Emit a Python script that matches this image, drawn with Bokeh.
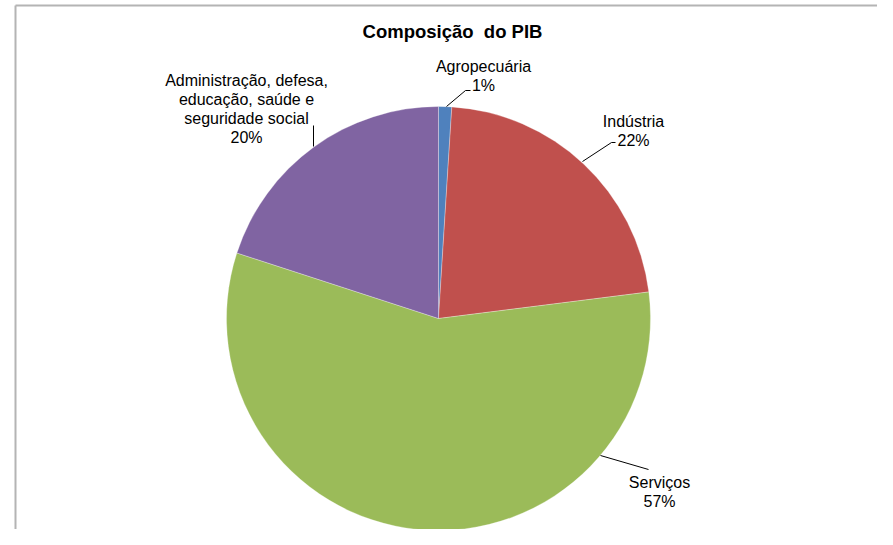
import math
from bokeh.plotting import figure
from bokeh.models import Range1d
from bokeh.core.properties import value
from bokeh.embed import file_html
from bokeh.resources import INLINE

# ---- data ----
categories = ["Agropecuária", "Indústria", "Serviços",
              "Administração, defesa,\neducação, saúde e\nseguridade social"]
values = [1, 22, 57, 20]
colors = ["#4F81BD", "#C0504D", "#9BBB59", "#8064A2"]
title_text = "Composição\u00a0 do PIB"

W, H = 877, 529
TOP = 545


def Y(ys):
    return TOP - ys


p = figure(width=W, height=H, output_backend="svg", toolbar_location=None,
           x_range=Range1d(0, W), y_range=Range1d(TOP - H, TOP),
           min_border=0)
p.axis.visible = False
p.grid.visible = False
p.outline_line_color = None
p.background_fill_color = "white"
p.border_fill_color = "white"

# chart frame (gray)
p.line(x=[15, 15], y=[Y(545), Y(5)], line_color="#b4b4b4", line_width=2)
p.line(x=[15, 877], y=[Y(5), Y(5)], line_color="#b4b4b4", line_width=2)

# pie
cx, cy, r = 438, Y(318), 212
total = float(sum(values))
start = math.pi / 2
starts, ends = [], []
for v in values:
    a = v / total * 2 * math.pi
    starts.append(start - a)
    ends.append(start)
    start -= a
p.wedge(x=cx, y=cy, radius=r, start_angle=starts, end_angle=ends,
        fill_color=colors, line_color="white", line_width=0.3)

# title
p.text(x=[452], y=[Y(31)], text=[title_text], text_align="center",
       text_baseline="middle", text_font=value("Liberation Sans"),
       text_font_style="bold", text_font_size="18.5px", text_color="#000000")

# labels
label_pos = [(483, 66), (633, 121), (659, 482), (246, 80)]
line_gap = 19
for cat, v, (lx, ly) in zip(categories, values, label_pos):
    lines = cat.split("\n") + ["%d%%" % round(v / total * 100)]
    xs = [lx] * len(lines)
    ys = [Y(ly + i * line_gap) for i in range(len(lines))]
    p.text(x=xs, y=ys, text=lines, text_align="center", text_baseline="middle",
           text_font=value("Liberation Sans"), text_font_size="16px",
           text_color="#000000")

# leader lines
leaders = [
    [(446, 106), (465, 90), (470, 90)],
    [(582, 161), (611, 142), (615, 142)],
    [(600, 455), (648, 469)],
    [(313, 146), (313, 125)],
]
for pts in leaders:
    p.line(x=[a for a, b in pts], y=[Y(b) for a, b in pts],
           line_color="#000000", line_width=1)

open("out.html", "w").write(file_html(p, INLINE))
